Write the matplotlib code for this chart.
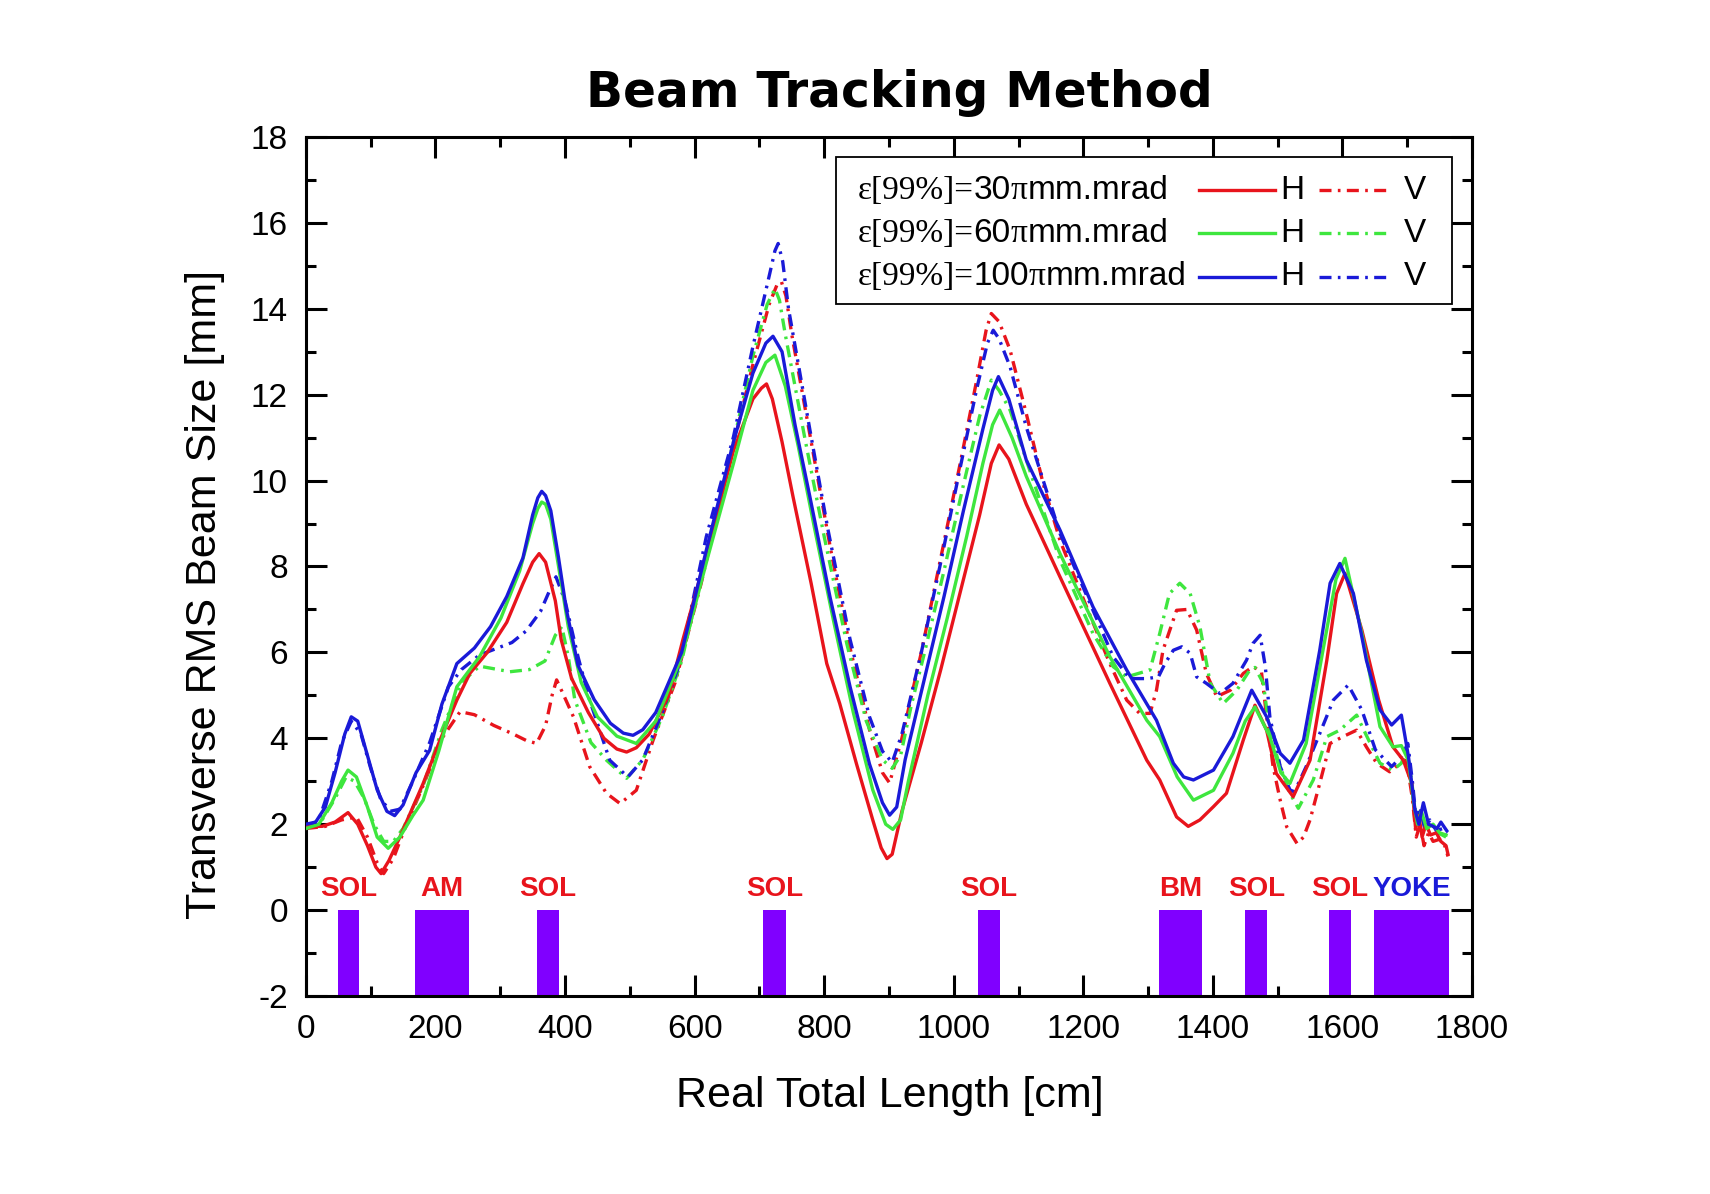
import numpy as np
import matplotlib
matplotlib.use("Agg")
import matplotlib.pyplot as plt
from matplotlib.patches import Rectangle
from matplotlib.ticker import MultipleLocator
from matplotlib.offsetbox import TextArea, HPacker, AnnotationBbox

plt.rcParams["axes.unicode_minus"] = False

# beam size curves: (length cm, rms size mm)
h30 = [(0, 1.95), (25, 1.95), (45, 2.05), (65, 2.27), (80, 2.0), (95, 1.5), (108, 1.0), (116, 0.85),
       (128, 1.15), (145, 1.7), (181, 2.95), (207, 3.96), (233, 4.89), (253, 5.51), (280, 6.0),
       (310, 6.7), (335, 7.6), (350, 8.1), (360, 8.3), (370, 8.1), (385, 7.2), (394, 6.3), (410, 5.4),
       (436, 4.6), (460, 4.0), (480, 3.75), (495, 3.68), (510, 3.78), (530, 4.1), (560, 5.0), (582, 6.3),
       (624, 8.6), (660, 10.7), (690, 11.9), (703, 12.15), (711, 12.25), (720, 11.9), (735, 10.9),
       (752, 9.62), (780, 7.6), (804, 5.74), (824, 4.81), (850, 3.4), (875, 2.1), (888, 1.45),
       (897, 1.2), (905, 1.3), (920, 2.3), (950, 3.9), (980, 5.6), (1010, 7.4), (1040, 9.2),
       (1058, 10.4), (1070, 10.83), (1085, 10.5), (1112, 9.45), (1164, 7.76), (1241, 5.28), (1298, 3.49),
       (1318, 3.03), (1344, 2.17), (1362, 1.95), (1380, 2.1), (1401, 2.41), (1421, 2.72), (1447, 3.96),
       (1465, 4.77), (1483, 4.19), (1498, 3.18), (1524, 2.64), (1550, 3.49), (1576, 5.82), (1591, 7.37),
       (1604, 7.84), (1630, 6.52), (1656, 4.89), (1678, 3.8), (1694, 3.49), (1707, 2.95), (1713, 1.9),
       (1718, 2.2), (1723, 1.7), (1729, 2.0), (1736, 1.75), (1745, 1.8), (1752, 1.6), (1760, 1.5),
       (1763, 1.3)]

v30 = [(0, 1.9), (30, 1.95), (55, 2.1), (78, 2.17), (95, 1.7), (110, 1.1), (120, 0.85), (135, 1.2),
       (150, 1.8), (181, 2.9), (210, 4.0), (238, 4.62), (260, 4.55), (290, 4.3), (320, 4.1), (340, 3.95),
       (356, 3.88), (370, 4.3), (380, 5.0), (387, 5.36), (395, 5.1), (413, 4.5), (438, 3.34), (464, 2.72),
       (485, 2.48), (510, 2.79), (536, 3.96), (570, 5.3), (610, 7.6), (650, 10.2), (690, 12.7),
       (715, 14.1), (727, 14.55), (734, 14.63), (741, 14.3), (750, 13.4), (780, 10.9), (810, 8.4),
       (840, 6.1), (870, 4.2), (890, 3.2), (901, 2.96), (920, 4.0), (950, 6.0), (980, 8.2), (1010, 10.4),
       (1035, 12.3), (1050, 13.5), (1058, 13.89), (1070, 13.7), (1087, 13.04), (1112, 11.56),
       (1138, 9.93), (1164, 8.61), (1205, 7.06), (1241, 5.74), (1267, 4.89), (1287, 4.58), (1303, 4.58),
       (1313, 5.12), (1323, 6.05), (1344, 6.98), (1360, 7.0), (1375, 6.52), (1390, 5.51), (1406, 4.97),
       (1427, 5.12), (1447, 5.51), (1462, 5.67), (1475, 5.55), (1483, 4.5), (1493, 3.34), (1504, 2.56),
       (1514, 1.94), (1530, 1.55), (1540, 1.7), (1550, 2.1), (1565, 2.95), (1581, 3.88), (1601, 4.04),
       (1622, 4.19), (1637, 3.8), (1653, 3.42), (1673, 3.22), (1689, 3.42), (1699, 3.49), (1708, 2.6),
       (1714, 1.7), (1720, 2.0), (1726, 1.5), (1733, 1.8), (1740, 1.6), (1750, 1.65), (1758, 1.5),
       (1763, 1.25)]

h60 = [(0, 1.9), (20, 2.0), (40, 2.5), (55, 3.0), (65, 3.26), (78, 3.1), (95, 2.4), (110, 1.7),
       (127, 1.44), (145, 1.7), (165, 2.2), (181, 2.56), (205, 3.7), (233, 5.2), (268, 5.9), (301, 6.8),
       (330, 7.9), (350, 9.0), (358, 9.35), (364, 9.5), (370, 9.45), (378, 9.1), (390, 8.0), (405, 6.6),
       (425, 5.3), (450, 4.5), (480, 4.05), (510, 3.88), (540, 4.4), (580, 5.9), (620, 8.2), (660, 10.4),
       (690, 12.1), (710, 12.75), (724, 12.92), (740, 12.2), (760, 10.8), (785, 8.9), (815, 6.7),
       (845, 4.6), (875, 2.8), (895, 2.0), (906, 1.88), (918, 2.1), (930, 3.0), (960, 5.0), (990, 6.8),
       (1020, 8.7), (1045, 10.4), (1060, 11.3), (1071, 11.64), (1090, 11.0), (1112, 10.1), (1164, 8.3),
       (1241, 5.9), (1298, 4.42), (1318, 4.04), (1345, 3.1), (1370, 2.56), (1401, 2.79), (1431, 3.65),
       (1450, 4.4), (1465, 4.73), (1488, 4.04), (1505, 3.2), (1519, 2.95), (1544, 3.88), (1570, 6.05),
       (1590, 7.7), (1604, 8.19), (1630, 6.44), (1658, 4.27), (1678, 3.8), (1691, 3.83), (1702, 3.48),
       (1710, 2.5), (1716, 2.0), (1722, 2.3), (1730, 1.9), (1740, 2.0), (1750, 1.8), (1760, 1.75)]

v60 = [(0, 1.9), (25, 2.1), (45, 2.6), (62, 3.1), (75, 3.0), (90, 2.6), (105, 2.0), (120, 1.6),
       (135, 1.6), (150, 1.9), (181, 2.9), (210, 4.2), (240, 5.3), (268, 5.68), (315, 5.55), (345, 5.6),
       (369, 5.8), (385, 6.4), (395, 6.6), (405, 5.9), (415, 4.9), (440, 3.9), (464, 3.49), (495, 3.07),
       (520, 3.5), (550, 4.5), (580, 5.8), (620, 8.4), (660, 10.9), (690, 12.9), (712, 14.1),
       (724, 14.47), (731, 14.2), (740, 13.4), (770, 11.0), (800, 8.7), (835, 6.2), (865, 4.4),
       (890, 3.5), (905, 3.3), (918, 3.6), (935, 4.8), (955, 6.0), (985, 7.9), (1015, 9.9), (1040, 11.5),
       (1058, 12.34), (1070, 12.1), (1087, 11.64), (1112, 10.48), (1164, 8.15), (1215, 6.44),
       (1246, 5.67), (1267, 5.43), (1303, 5.59), (1318, 6.44), (1333, 7.37), (1349, 7.61), (1365, 7.37),
       (1380, 6.6), (1396, 5.28), (1416, 4.81), (1437, 5.12), (1457, 5.59), (1465, 5.65), (1478, 5.28),
       (1488, 4.11), (1504, 3.34), (1519, 2.72), (1532, 2.37), (1555, 3.03), (1576, 4.04), (1596, 4.19),
       (1622, 4.54), (1643, 3.88), (1658, 3.42), (1678, 3.26), (1691, 3.42), (1699, 3.73), (1707, 3.0),
       (1714, 2.1), (1720, 2.3), (1728, 1.9), (1738, 2.0), (1748, 1.8), (1760, 1.7)]

h100 = [(0, 2.0), (15, 2.05), (30, 2.4), (45, 3.2), (60, 4.1), (70, 4.5), (80, 4.4), (95, 3.6),
        (110, 2.8), (125, 2.3), (137, 2.2), (150, 2.45), (170, 3.2), (191, 3.72), (210, 4.8),
        (233, 5.74), (260, 6.1), (285, 6.6), (310, 7.3), (335, 8.2), (350, 9.2), (358, 9.6), (364, 9.75),
        (370, 9.65), (378, 9.3), (390, 8.2), (402, 7.0), (420, 5.7), (445, 4.9), (470, 4.35), (490, 4.12),
        (505, 4.07), (520, 4.2), (540, 4.6), (580, 6.0), (620, 8.5), (660, 10.9), (690, 12.5),
        (710, 13.2), (721, 13.36), (735, 13.0), (755, 11.3), (778, 9.62), (809, 7.29), (840, 5.2),
        (870, 3.4), (890, 2.5), (901, 2.21), (912, 2.4), (925, 3.5), (955, 5.4), (985, 7.3), (1015, 9.3),
        (1045, 11.2), (1060, 12.1), (1069, 12.42), (1085, 11.9), (1112, 10.48), (1164, 8.85),
        (1215, 7.06), (1267, 5.59), (1313, 4.42), (1339, 3.42), (1355, 3.1), (1370, 3.03), (1401, 3.26),
        (1431, 4.04), (1460, 5.12), (1483, 4.5), (1504, 3.65), (1519, 3.42), (1540, 3.96), (1565, 6.05),
        (1581, 7.61), (1596, 8.07), (1617, 7.37), (1637, 5.82), (1658, 4.66), (1676, 4.31), (1691, 4.54),
        (1702, 3.57), (1712, 2.33), (1718, 2.0), (1725, 2.5), (1733, 2.0), (1740, 1.95), (1746, 1.9),
        (1752, 2.05), (1761, 1.85)]

v100 = [(0, 1.9), (20, 2.1), (40, 3.0), (55, 3.9), (70, 4.4), (85, 4.1), (100, 3.3), (115, 2.6),
        (130, 2.3), (145, 2.35), (165, 3.0), (191, 3.9), (220, 5.2), (240, 5.6), (268, 5.94), (318, 6.23),
        (340, 6.5), (362, 6.95), (375, 7.4), (386, 7.76), (400, 7.2), (420, 5.9), (438, 4.89), (469, 3.49),
        (497, 3.1), (520, 3.5), (550, 4.6), (577, 5.74), (618, 8.69), (660, 11.02), (690, 13.12),
        (716, 14.82), (724, 15.35), (729, 15.52), (736, 15.1), (745, 14.0), (778, 11.18), (806, 8.85),
        (840, 6.3), (870, 4.5), (890, 3.7), (905, 3.44), (920, 4.1), (950, 6.0), (980, 8.1), (1010, 10.3),
        (1035, 12.1), (1052, 13.2), (1061, 13.5), (1070, 13.3), (1087, 12.65), (1112, 11.25),
        (1164, 8.77), (1215, 6.98), (1246, 5.9), (1272, 5.39), (1298, 5.39), (1316, 5.43), (1326, 5.74),
        (1339, 6.05), (1352, 6.13), (1365, 5.98), (1375, 5.43), (1390, 5.28), (1411, 5.04), (1431, 5.28),
        (1452, 5.82), (1462, 6.21), (1473, 6.4), (1481, 5.67), (1488, 4.5), (1504, 3.34), (1519, 2.8),
        (1526, 2.75), (1544, 3.34), (1565, 4.11), (1586, 4.89), (1609, 5.24), (1630, 4.66), (1651, 3.73),
        (1676, 3.34), (1691, 3.57), (1701, 3.88), (1708, 3.0), (1714, 2.1), (1720, 2.4), (1727, 1.9),
        (1735, 2.1), (1745, 1.85), (1755, 1.9), (1762, 1.8)]

# beamline elements (start/end in cm)
elem_names = ["SOL", "AM", "SOL", "SOL", "SOL", "BM", "SOL", "SOL", "YOKE"]
elem_start = [49, 168, 357, 706, 1037, 1317, 1450, 1579, 1649]
elem_end = [82, 252, 391, 741, 1071, 1384, 1484, 1614, 1764]

emittances = ["30", "60", "100"]

RED = "#e8141c"
GREEN = "#3ee63e"
BLUE = "#1a1ad8"
PURPLE = "#8000ff"
DASHDOT = (0, (3.6, 1.9, 0.8, 1.9))

fig = plt.figure(figsize=(17.1, 11.94), dpi=100)
ax = fig.add_axes([0.1789, 0.1658, 0.6819, 0.7195])

# element blocks
widths = np.array(elem_end) - np.array(elem_start)
ax.bar(elem_start, [2] * len(elem_start), width=widths, bottom=-2, align="edge",
       color=PURPLE, edgecolor="none", zorder=2)
for name, s, e in zip(elem_names, elem_start, elem_end):
    col = BLUE if name == "YOKE" else RED
    ax.text((s + e) / 2, 0.5, name, color=col, fontsize=20, fontweight="bold",
            family="Liberation Sans", ha="center", va="center", zorder=4)

curves = [(v30, RED, DASHDOT), (v60, GREEN, DASHDOT), (v100, BLUE, DASHDOT),
          (h30, RED, "-"), (h60, GREEN, "-"), (h100, BLUE, "-")]
for data, col, ls in curves:
    arr = np.array(data)
    ax.plot(arr[:, 0], arr[:, 1], color=col, ls=ls, lw=2.4, zorder=3)

ax.set_xlim(0, 1800)
ax.set_ylim(-2, 18)
ax.xaxis.set_major_locator(MultipleLocator(200))
ax.xaxis.set_minor_locator(MultipleLocator(100))
ax.yaxis.set_major_locator(MultipleLocator(2))
ax.yaxis.set_minor_locator(MultipleLocator(1))
ax.tick_params(which="both", direction="in", top=True, right=True, width=2.2)
ax.tick_params(which="major", length=15, labelsize=24, pad=13)
ax.tick_params(which="minor", length=7)
ax.tick_params(axis="y", which="major", pad=13)
for lab in ax.get_xticklabels() + ax.get_yticklabels():
    lab.set_family("Liberation Sans")
for sp in ax.spines.values():
    sp.set_linewidth(2.2)

# legend box, drawn by hand to mix fonts like the original
ax.add_patch(Rectangle((0.4545, 0.806), 0.528, 0.171, transform=ax.transAxes,
                       facecolor="white", edgecolor="black", lw=1.3, zorder=5))
serif = dict(family="Liberation Serif", fontsize=24)
sans = dict(family="Liberation Sans", fontsize=24)
row_y = [0.938, 0.888, 0.837]
for emit, col, y in zip(emittances, [RED, GREEN, BLUE], row_y):
    pack = HPacker(children=[TextArea("\u03b5[99%]=", textprops=serif),
                             TextArea(emit, textprops=sans),
                             TextArea("\u03c0", textprops=serif),
                             TextArea("mm.mrad", textprops=sans)],
                   pad=0, sep=0, align="baseline")
    ab = AnnotationBbox(pack, (0.473, y), xycoords="axes fraction", box_alignment=(0, 0.5),
                        frameon=False, pad=0, zorder=6)
    ax.add_artist(ab)
    ax.plot([0.766, 0.831], [y, y], transform=ax.transAxes, color=col, lw=2.4, zorder=6)
    ax.text(0.836, y, "H", transform=ax.transAxes, va="center", zorder=6, **sans)
    ax.plot([0.869, 0.928], [y, y], transform=ax.transAxes, color=col, lw=2.4, ls=DASHDOT, zorder=6)
    ax.text(0.942, y, "V", transform=ax.transAxes, va="center", zorder=6, **sans)

fig.text(0.526, 0.922, "Beam Tracking Method", ha="center", va="center",
         fontsize=35, fontweight="bold", family="DejaVu Sans")
fig.text(0.12, 0.5025, "Transverse RMS Beam Size [mm]", rotation=90, ha="center", va="center",
         fontsize=31, family="Liberation Sans")
fig.text(0.5205, 0.0821, "Real Total Length [cm]", ha="center", va="center",
         fontsize=31, family="Liberation Sans")

fig.savefig("out.png", dpi=100, facecolor="white")
